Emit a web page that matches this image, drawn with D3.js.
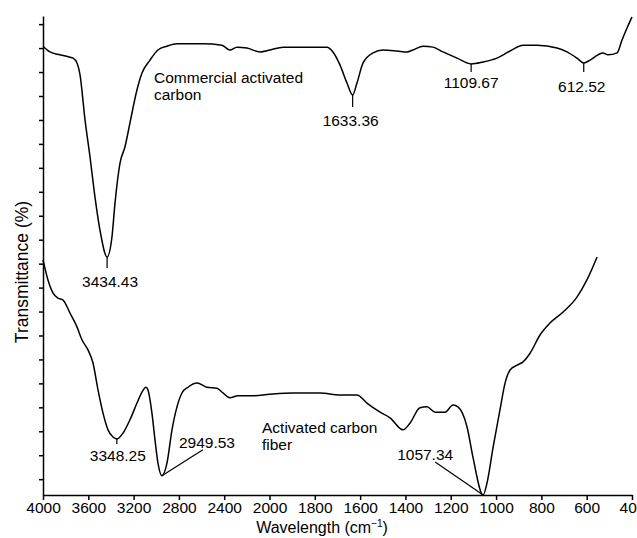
<!DOCTYPE html>
<html>
<head>
<meta charset="utf-8">
<script src="https://cdn.jsdelivr.net/npm/d3@7"></script>
<style>
  body { margin: 0; background: #fff; }
  svg { display: block; font-family: "Liberation Sans", Arial, sans-serif; }
  .axis path, .axis line { stroke: #000; stroke-width: 1.5; }
  .axis text { font-size: 15.5px; fill: #000; }
  .curve { fill: none; stroke: #000; stroke-width: 1.5; stroke-linejoin: round; }
  .note { font-size: 15.5px; fill: #000; }
  .lead { stroke: #000; stroke-width: 1.2; }
</style>
</head>
<body>
<svg id="chart" width="637" height="538"></svg>
<script>
// wavenumber tick labels (axis is split: 400 steps above 2000, 200 steps below)
const xTicks = [4000, 3600, 3200, 2800, 2400, 2000, 1800, 1600, 1400, 1200, 1000, 800, 600, 400];
// unlabeled transmittance ticks
const yTicks = [3.3, 8.3, 13.3, 18.3, 23.3, 28.3, 33.3, 38.3, 43.3, 48.3,
                53.3, 58.3, 63.3, 68.3, 73.3, 78.3, 83.3, 88.3, 93.3, 98.3];

// Commercial activated carbon: [wavenumber, transmittance]
const commercialWn = [4000, 3938, 3850, 3762, 3735, 3700, 3673, 3629, 3585, 3541, 3497, 3434,
  3391, 3364, 3320, 3276, 3232, 3170, 3126, 3055, 2985, 2905, 2817, 2588, 2420, 2349, 2287,
  2199, 2084, 1998, 1940, 1746, 1720, 1689, 1658, 1633, 1614, 1587, 1543, 1499, 1437, 1393,
  1367, 1322, 1278, 1234, 1172, 1110, 1058, 996, 938, 881, 819, 731, 687, 643, 613, 585,
  550, 528, 506, 466, 444, 422, 400];
const commercialT = [93.7, 92.5, 91.9, 91.4, 91.2, 90.2, 87.7, 78.3, 70.6, 62.2, 55.3, 49.7,
  53.9, 61.0, 69.3, 72.7, 77.7, 84.6, 88.1, 90.8, 92.9, 93.7, 94.2, 94.2, 93.9, 92.9, 93.5,
  93.3, 92.5, 92.9, 93.5, 93.5, 92.5, 89.8, 86.0, 83.5, 86.0, 90.2, 92.3, 92.9, 92.7, 92.5,
  92.9, 93.7, 93.5, 92.5, 91.2, 90.0, 90.4, 91.2, 92.7, 93.9, 93.9, 93.3, 92.5, 91.2, 90.2, 90.8,
  91.9, 92.3, 91.9, 92.3, 95.0, 97.5, 99.8];

// Activated carbon fiber
const fiberWn = [4000, 3956, 3912, 3868, 3823, 3762, 3700, 3656, 3603, 3559, 3514, 3470, 3426,
  3382, 3348, 3294, 3232, 3170, 3126, 3091, 3073, 3038, 3011, 2985, 2950, 2905, 2861, 2817,
  2773, 2720, 2640, 2552, 2464, 2411, 2349, 2279, 2146, 1985, 1896, 1777, 1689, 1614, 1570,
  1512, 1468, 1411, 1380, 1336, 1305, 1269, 1225, 1190, 1168, 1128, 1102, 1057, 1040, 1013,
  983, 960, 938, 908, 881, 850, 806, 762, 704, 643, 599, 554];
const fiberT = [49.1, 44.9, 42.2, 41.1, 40.7, 38.0, 35.1, 32.4, 30.3, 27.6, 21.9, 17.1, 13.6,
  12.1, 11.7, 12.9, 15.7, 19.2, 21.5, 22.5, 21.9, 17.1, 11.5, 6.7, 4.0, 6.7, 13.6, 18.4,
  21.3, 22.5, 23.4, 22.5, 22.3, 21.3, 20.3, 20.7, 20.7, 21.1, 21.3, 21.3, 20.9, 20.9, 19.2,
  17.3, 16.1, 13.6, 15.0, 18.2, 18.4, 17.3, 17.3, 18.8, 18.4, 14.2, 7.9, 0.0, 2.5, 10.0,
  17.7, 23.4, 26.1, 27.1, 27.8, 29.6, 33.4, 35.9, 38.2, 41.3, 44.9, 49.7];

// peak labels
const commercialPeaks = [3434, 1633, 1110, 613];
const commercialPeakLabels = ["3434.43", "1633.36", "1109.67", "612.52"];
const fiberPeaks = [3348, 2950, 1057];
const fiberPeakLabels = ["3348.25", "2949.53", "1057.34"];

const svg = d3.select("#chart");

const x = d3.scaleLinear().domain([4000, 2000, 400]).range([43, 269.5, 632]);
const y = d3.scaleLinear().domain([0, 100]).range([495, 16]);

// axes
svg.append("g")
    .attr("class", "axis")
    .attr("transform", "translate(0,495)")
    .call(d3.axisBottom(x).tickValues(xTicks).tickFormat(d3.format("d")).tickSize(5).tickSizeOuter(0).tickPadding(2));

svg.append("g")
    .attr("class", "axis")
    .attr("transform", "translate(43,0)")
    .call(d3.axisLeft(y).tickValues(yTicks).tickFormat("").tickSize(4).tickSizeOuter(0));

// curves
const line = d3.line()
    .x(d => x(d[0]))
    .y(d => y(d[1]))
    .curve(d3.curveMonotoneX);

const commercial = d3.zip(commercialWn, commercialT);
const fiber = d3.zip(fiberWn, fiberT);

svg.append("path").attr("class", "curve").attr("d", line(commercial));
svg.append("path").attr("class", "curve").attr("d", line(fiber));

function at(series, wn) {
    return series.find(d => d[0] === wn);
}

// small vertical marks under peaks: [drop, text dx, text dy]
const commercialMarks = [[11, 3, 30], [12, -2, 31], [8, 0, 24], [9, -2, 29]];
commercialPeaks.forEach((wn, i) => {
    let p = at(commercial, wn);
    let px = x(p[0]), py = y(p[1]);
    let m = commercialMarks[i];
    svg.append("line").attr("class", "lead")
        .attr("x1", px).attr("x2", px).attr("y1", py).attr("y2", py + m[0]);
    svg.append("text").attr("class", "note")
        .attr("text-anchor", "middle")
        .attr("x", px + m[1]).attr("y", py + m[2])
        .text(commercialPeakLabels[i]);
});

// fiber peaks
let p0 = at(fiber, fiberPeaks[0]);
svg.append("line").attr("class", "lead")
    .attr("x1", x(p0[0])).attr("x2", x(p0[0]))
    .attr("y1", y(p0[1])).attr("y2", y(p0[1]) + 5);
svg.append("text").attr("class", "note")
    .attr("text-anchor", "middle")
    .attr("x", x(p0[0]) + 1).attr("y", y(p0[1]) + 22)
    .text(fiberPeakLabels[0]);

let p1 = at(fiber, fiberPeaks[1]);
svg.append("line").attr("class", "lead")
    .attr("x1", x(p1[0])).attr("y1", y(p1[1]))
    .attr("x2", x(p1[0]) + 41).attr("y2", y(p1[1]) - 26);
svg.append("text").attr("class", "note")
    .attr("x", x(p1[0]) + 17).attr("y", y(p1[1]) - 28)
    .text(fiberPeakLabels[1]);

let p2 = at(fiber, fiberPeaks[2]);
svg.append("line").attr("class", "lead")
    .attr("x1", x(p2[0])).attr("y1", y(p2[1]))
    .attr("x2", x(p2[0]) - 48).attr("y2", y(p2[1]) - 33);
svg.append("text").attr("class", "note")
    .attr("x", x(p2[0]) - 86).attr("y", y(p2[1]) - 35)
    .text(fiberPeakLabels[2]);

// series labels
const commercialName = svg.append("text").attr("class", "note")
    .attr("x", 154).attr("y", 83);
commercialName.append("tspan").attr("x", 154).text("Commercial activated");
commercialName.append("tspan").attr("x", 154).attr("dy", 17).text("carbon");

const fiberName = svg.append("text").attr("class", "note")
    .attr("x", 262).attr("y", 433);
fiberName.append("tspan").attr("x", 262).text("Activated carbon");
fiberName.append("tspan").attr("x", 262).attr("dy", 17).text("fiber");

// axis titles
const xTitle = svg.append("text")
    .attr("text-anchor", "middle")
    .attr("x", 322).attr("y", 533)
    .style("font-size", "16px");
xTitle.append("tspan").text("Wavelength (cm");
xTitle.append("tspan").attr("dy", -6).style("font-size", "10px").text("\u22121");
xTitle.append("tspan").attr("dy", 6).text(")");

svg.append("text")
    .attr("text-anchor", "middle")
    .attr("transform", "translate(28,272) rotate(-90)")
    .style("font-size", "17.5px")
    .text("Transmittance (%)");
</script>
</body>
</html>
